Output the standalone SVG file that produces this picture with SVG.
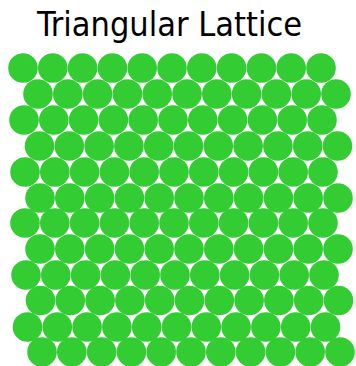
<svg xmlns="http://www.w3.org/2000/svg" width="356" height="366" viewBox="0 0 356 366">
<style>
.title{font-family:"DejaVu Sans Condensed","DejaVu Sans",sans-serif;font-size:34px;fill:#000}
.b{fill:#33cc33}
</style>
<rect width="356" height="366" fill="#fff"/>
<text class="title" x="37" y="36">Triangular Lattice</text>
<g id="row0" class="b" transform="translate(23,68)"><circle cx="0" cy="0" r="14.8"/><circle cx="29.8" cy="0" r="14.8"/><circle cx="59.6" cy="0" r="14.8"/><circle cx="89.4" cy="0" r="14.8"/><circle cx="119.2" cy="0" r="14.8"/><circle cx="149" cy="0" r="14.8"/><circle cx="178.8" cy="0" r="14.8"/><circle cx="208.6" cy="0" r="14.8"/><circle cx="238.4" cy="0" r="14.8"/><circle cx="268.2" cy="0" r="14.8"/><circle cx="298" cy="0" r="14.8"/></g>
<g id="row1" class="b" transform="translate(38,94)"><circle cx="0" cy="0" r="14.8"/><circle cx="29.8" cy="0" r="14.8"/><circle cx="59.6" cy="0" r="14.8"/><circle cx="89.4" cy="0" r="14.8"/><circle cx="119.2" cy="0" r="14.8"/><circle cx="149" cy="0" r="14.8"/><circle cx="178.8" cy="0" r="14.8"/><circle cx="208.6" cy="0" r="14.8"/><circle cx="238.4" cy="0" r="14.8"/><circle cx="268.2" cy="0" r="14.8"/><circle cx="298" cy="0" r="14.8"/></g>
<g id="row2" class="b" transform="translate(24,120)"><circle cx="0" cy="0" r="14.8"/><circle cx="29.8" cy="0" r="14.8"/><circle cx="59.6" cy="0" r="14.8"/><circle cx="89.4" cy="0" r="14.8"/><circle cx="119.2" cy="0" r="14.8"/><circle cx="149" cy="0" r="14.8"/><circle cx="178.8" cy="0" r="14.8"/><circle cx="208.6" cy="0" r="14.8"/><circle cx="238.4" cy="0" r="14.8"/><circle cx="268.2" cy="0" r="14.8"/><circle cx="298" cy="0" r="14.8"/></g>
<g id="row3" class="b" transform="translate(39.5,146)"><circle cx="0" cy="0" r="14.8"/><circle cx="29.8" cy="0" r="14.8"/><circle cx="59.6" cy="0" r="14.8"/><circle cx="89.4" cy="0" r="14.8"/><circle cx="119.2" cy="0" r="14.8"/><circle cx="149" cy="0" r="14.8"/><circle cx="178.8" cy="0" r="14.8"/><circle cx="208.6" cy="0" r="14.8"/><circle cx="238.4" cy="0" r="14.8"/><circle cx="268.2" cy="0" r="14.8"/><circle cx="298" cy="0" r="14.8"/></g>
<g id="row4" class="b" transform="translate(25,172)"><circle cx="0" cy="0" r="14.8"/><circle cx="29.8" cy="0" r="14.8"/><circle cx="59.6" cy="0" r="14.8"/><circle cx="89.4" cy="0" r="14.8"/><circle cx="119.2" cy="0" r="14.8"/><circle cx="149" cy="0" r="14.8"/><circle cx="178.8" cy="0" r="14.8"/><circle cx="208.6" cy="0" r="14.8"/><circle cx="238.4" cy="0" r="14.8"/><circle cx="268.2" cy="0" r="14.8"/><circle cx="298" cy="0" r="14.8"/></g>
<g id="row5" class="b" transform="translate(40,198)"><circle cx="0" cy="0" r="14.8"/><circle cx="29.8" cy="0" r="14.8"/><circle cx="59.6" cy="0" r="14.8"/><circle cx="89.4" cy="0" r="14.8"/><circle cx="119.2" cy="0" r="14.8"/><circle cx="149" cy="0" r="14.8"/><circle cx="178.8" cy="0" r="14.8"/><circle cx="208.6" cy="0" r="14.8"/><circle cx="238.4" cy="0" r="14.8"/><circle cx="268.2" cy="0" r="14.8"/><circle cx="298" cy="0" r="14.8"/></g>
<g id="row6" class="b" transform="translate(25,223)"><circle cx="0" cy="0" r="14.8"/><circle cx="29.8" cy="0" r="14.8"/><circle cx="59.6" cy="0" r="14.8"/><circle cx="89.4" cy="0" r="14.8"/><circle cx="119.2" cy="0" r="14.8"/><circle cx="149" cy="0" r="14.8"/><circle cx="178.8" cy="0" r="14.8"/><circle cx="208.6" cy="0" r="14.8"/><circle cx="238.4" cy="0" r="14.8"/><circle cx="268.2" cy="0" r="14.8"/><circle cx="298" cy="0" r="14.8"/></g>
<g id="row7" class="b" transform="translate(40,249)"><circle cx="0" cy="0" r="14.8"/><circle cx="29.8" cy="0" r="14.8"/><circle cx="59.6" cy="0" r="14.8"/><circle cx="89.4" cy="0" r="14.8"/><circle cx="119.2" cy="0" r="14.8"/><circle cx="149" cy="0" r="14.8"/><circle cx="178.8" cy="0" r="14.8"/><circle cx="208.6" cy="0" r="14.8"/><circle cx="238.4" cy="0" r="14.8"/><circle cx="268.2" cy="0" r="14.8"/><circle cx="298" cy="0" r="14.8"/></g>
<g id="row8" class="b" transform="translate(26,275)"><circle cx="0" cy="0" r="14.8"/><circle cx="29.8" cy="0" r="14.8"/><circle cx="59.6" cy="0" r="14.8"/><circle cx="89.4" cy="0" r="14.8"/><circle cx="119.2" cy="0" r="14.8"/><circle cx="149" cy="0" r="14.8"/><circle cx="178.8" cy="0" r="14.8"/><circle cx="208.6" cy="0" r="14.8"/><circle cx="238.4" cy="0" r="14.8"/><circle cx="268.2" cy="0" r="14.8"/><circle cx="298" cy="0" r="14.8"/></g>
<g id="row9" class="b" transform="translate(40.5,300.5)"><circle cx="0" cy="0" r="14.8"/><circle cx="29.8" cy="0" r="14.8"/><circle cx="59.6" cy="0" r="14.8"/><circle cx="89.4" cy="0" r="14.8"/><circle cx="119.2" cy="0" r="14.8"/><circle cx="149" cy="0" r="14.8"/><circle cx="178.8" cy="0" r="14.8"/><circle cx="208.6" cy="0" r="14.8"/><circle cx="238.4" cy="0" r="14.8"/><circle cx="268.2" cy="0" r="14.8"/><circle cx="298" cy="0" r="14.8"/></g>
<g id="row10" class="b" transform="translate(27.5,327)"><circle cx="0" cy="0" r="14.8"/><circle cx="29.8" cy="0" r="14.8"/><circle cx="59.6" cy="0" r="14.8"/><circle cx="89.4" cy="0" r="14.8"/><circle cx="119.2" cy="0" r="14.8"/><circle cx="149" cy="0" r="14.8"/><circle cx="178.8" cy="0" r="14.8"/><circle cx="208.6" cy="0" r="14.8"/><circle cx="238.4" cy="0" r="14.8"/><circle cx="268.2" cy="0" r="14.8"/><circle cx="298" cy="0" r="14.8"/></g>
<g id="row11" class="b" transform="translate(42,352)"><circle cx="0" cy="0" r="14.8"/><circle cx="29.8" cy="0" r="14.8"/><circle cx="59.6" cy="0" r="14.8"/><circle cx="89.4" cy="0" r="14.8"/><circle cx="119.2" cy="0" r="14.8"/><circle cx="149" cy="0" r="14.8"/><circle cx="178.8" cy="0" r="14.8"/><circle cx="208.6" cy="0" r="14.8"/><circle cx="238.4" cy="0" r="14.8"/><circle cx="268.2" cy="0" r="14.8"/><circle cx="298" cy="0" r="14.8"/></g>
</svg>
